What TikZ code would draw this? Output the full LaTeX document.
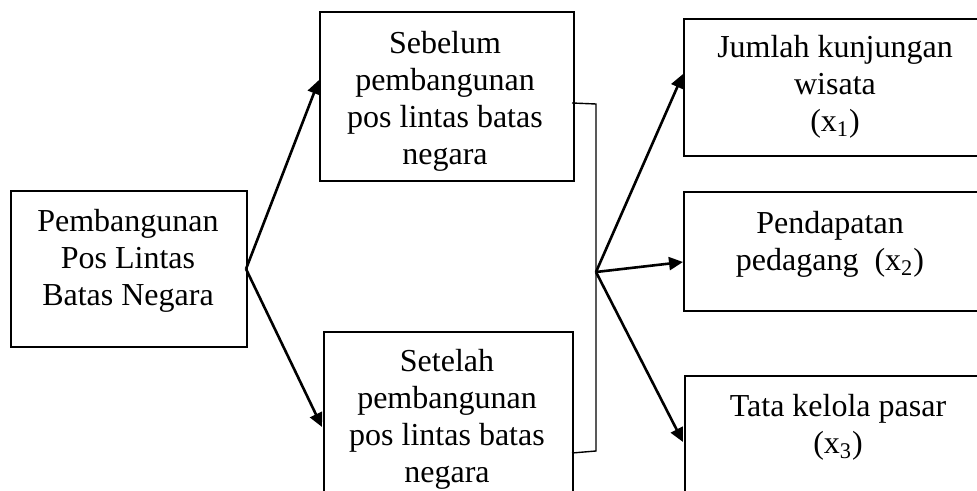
\documentclass[tikz,border=0pt]{standalone}
\usepackage{fontspec}
\setmainfont{Liberation Serif}
\usetikzlibrary{arrows.meta}
\begin{document}
\begin{tikzpicture}[x=0.5pt,y=-0.5pt,
  box/.style={draw,line width=1pt,rectangle,inner sep=0pt,anchor=north west},
  txt/.style={align=center,inner sep=0pt,font=\fontsize{16}{18.5}\selectfont},
  arr/.style={line width=1.3pt,-{Triangle[length=7pt,width=6.5pt]}},
  brk/.style={line width=0.7pt}]
\clip (0,0) rectangle (977,491);
% boxes
\node[box,minimum width=118pt,minimum height=78pt] (L) at (10,190) {};
\node[box,minimum width=127pt,minimum height=84.5pt] (T) at (319,11) {};
\node[box,minimum width=124.5pt,minimum height=100pt] (B) at (323,331) {};
\node[box,minimum width=160pt,minimum height=68.5pt] (R1) at (683,18) {};
\node[box,minimum width=160pt,minimum height=59.5pt] (R2) at (683,191) {};
\node[box,minimum width=160pt,minimum height=100pt] (R3) at (684,375) {};
% texts
\node[txt] (tL) at (128,261) {Pembangunan\\Pos Lintas\\Batas Negara};
\node[txt] (tT) at (445,101) {Sebelum\\pembangunan\\pos lintas batas\\negara};
\node[txt] (tB) at (447,419) {Setelah\\pembangunan\\pos lintas batas\\negara};
\node[txt] (tR1) at (835,87) {Jumlah kunjungan\\wisata\\(x\textsubscript{1})};
\node[txt] (tR2) at (830,244) {Pendapatan\\pedagang\ \ (x\textsubscript{2})};
\node[txt] (tR3) at (838,427) {Tata kelola pasar\\(x\textsubscript{3})};
% coordinates
\coordinate (o) at (246,269);
\coordinate (bt) at (572,103);
\coordinate (bb) at (572,453);
\coordinate (m) at (596,272);
\coordinate (aT) at (319,80);
\coordinate (aB) at (322,427);
\coordinate (a1) at (683,74);
\coordinate (a2) at (683,262);
\coordinate (a3) at (683,442);
% bracket
\draw[brk] (bt) -- (596,104) -- (596,451) -- (bb);
% arrows
\draw[arr] (o) -- (aT);
\draw[arr] (o) -- (aB);
\draw[arr] (m) -- (a1);
\draw[arr] (m) -- (a2);
\draw[arr] (m) -- (a3);
\end{tikzpicture}
\end{document}
